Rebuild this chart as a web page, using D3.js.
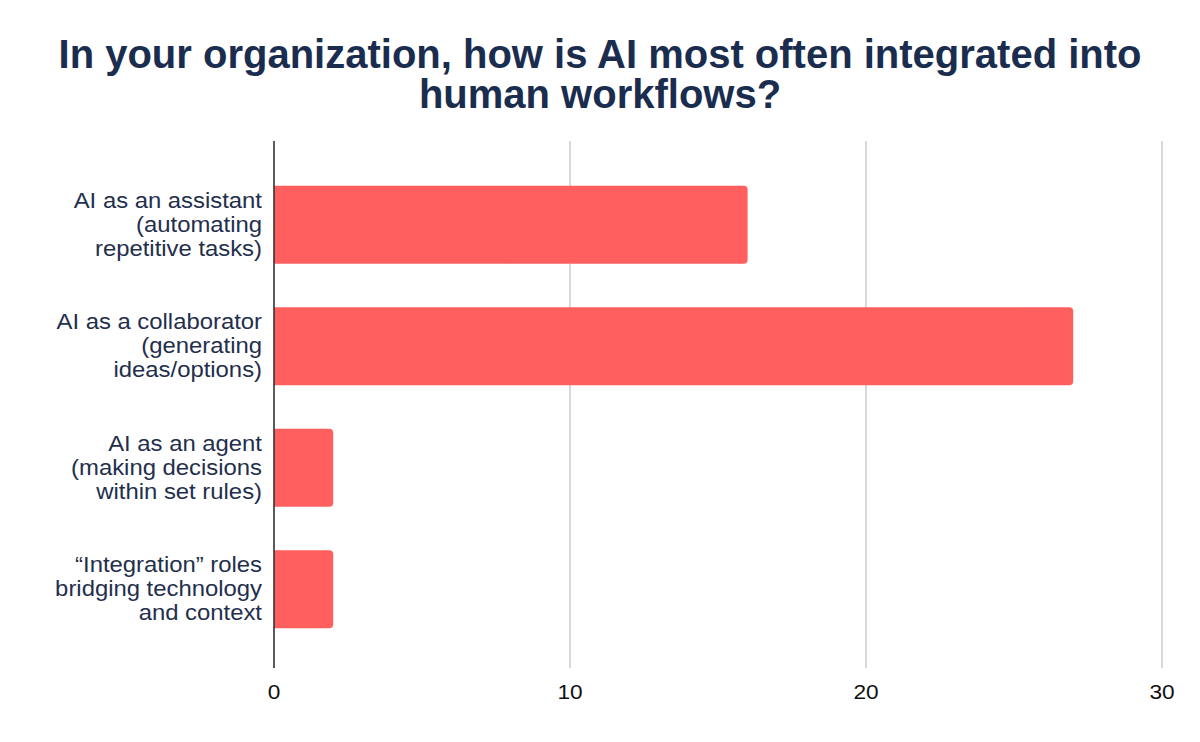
<!DOCTYPE html>
<html>
<head>
<meta charset="utf-8">
<script src="https://cdn.jsdelivr.net/npm/d3@7"></script>
<style>
  body { margin: 0; background: #fff; }
  text { font-family: "Liberation Sans", Arial, sans-serif; }
</style>
</head>
<body>
<script>
// chart data
let categories = [
  ["AI as an assistant", "(automating", "repetitive tasks)"],
  ["AI as a collaborator", "(generating", "ideas/options)"],
  ["AI as an agent", "(making decisions", "within set rules)"],
  ["\u201cIntegration\u201d roles", "bridging technology", "and context"]
];
let values = [16, 27, 2, 2];
let xTicks = [0, 10, 20, 30];
let titleLines = [
  "In your organization, how is AI most often integrated into",
  "human workflows?"
];

let width = 1200,
  height = 742,
  plotLeft = 274,
  plotRight = 1162,
  plotTop = 141,
  plotBottom = 668;

let svg = d3
  .select("body")
  .append("svg")
  .attr("width", width)
  .attr("height", height);

// title
svg
  .append("text")
  .attr("x", 600)
  .attr("y", 68)
  .attr("text-anchor", "middle")
  .attr("fill", "#1b2d4f")
  .style("font-size", "40px")
  .style("font-weight", "bold")
  .selectAll("tspan")
  .data(titleLines)
  .enter()
  .append("tspan")
  .attr("x", 600)
  .attr("dy", (d, i) => (i == 0 ? 0 : 40))
  .text((d) => d);

let x = d3.scaleLinear().domain([0, 30]).range([plotLeft, plotRight]);

let y = d3
  .scaleBand()
  .domain(d3.range(values.length))
  .range([164, 650])
  .paddingInner(0.36)
  .paddingOuter(0.18);

// gridlines
svg
  .append("g")
  .selectAll("line")
  .data(xTicks.filter((d) => d != 0))
  .enter()
  .append("line")
  .attr("x1", (d) => x(d))
  .attr("x2", (d) => x(d))
  .attr("y1", plotTop)
  .attr("y2", plotBottom)
  .attr("stroke", "#cccccc")
  .attr("stroke-width", 1.5);

// bars, rounded on the right end only
let r = 4;
svg
  .append("g")
  .selectAll("path")
  .data(values)
  .enter()
  .append("path")
  .attr("fill", "#ff5f5f")
  .attr("d", function (d, i) {
    let x0 = x(0),
      x1 = x(d),
      y0 = y(i),
      y1 = y(i) + y.bandwidth();
    return (
      "M" + x0 + "," + y0 +
      "H" + (x1 - r) +
      "Q" + x1 + "," + y0 + " " + x1 + "," + (y0 + r) +
      "V" + (y1 - r) +
      "Q" + x1 + "," + y1 + " " + (x1 - r) + "," + y1 +
      "H" + x0 + "Z"
    );
  });

// zero axis line
svg
  .append("line")
  .attr("x1", x(0))
  .attr("x2", x(0))
  .attr("y1", plotTop)
  .attr("y2", plotBottom)
  .attr("stroke", "#333333")
  .attr("stroke-width", 1.6);

// x tick labels
svg
  .append("g")
  .selectAll("text")
  .data(xTicks)
  .enter()
  .append("text")
  .attr("transform", (d) => "translate(" + x(d) + ",699) scale(1.08,1)")
  .attr("text-anchor", "middle")
  .attr("fill", "#111111")
  .style("font-size", "21px")
  .text((d) => d);

// category labels
let labels = svg
  .append("g")
  .selectAll("text")
  .data(categories)
  .enter()
  .append("text")
  .attr("text-anchor", "end")
  .attr("fill", "#1f2f4d")
  .style("font-size", "22px")
  .attr(
    "transform",
    (d, i) => "translate(262," + (y(i) + y.bandwidth() / 2) + ") scale(1.085,1)"
  );

labels
  .selectAll("tspan")
  .data((d) => d)
  .enter()
  .append("tspan")
  .attr("x", 0)
  .attr("y", (d, i, all) => (i - (all.length - 1) / 2) * 24 + 7)
  .text((d) => d);
</script>
</body>
</html>
